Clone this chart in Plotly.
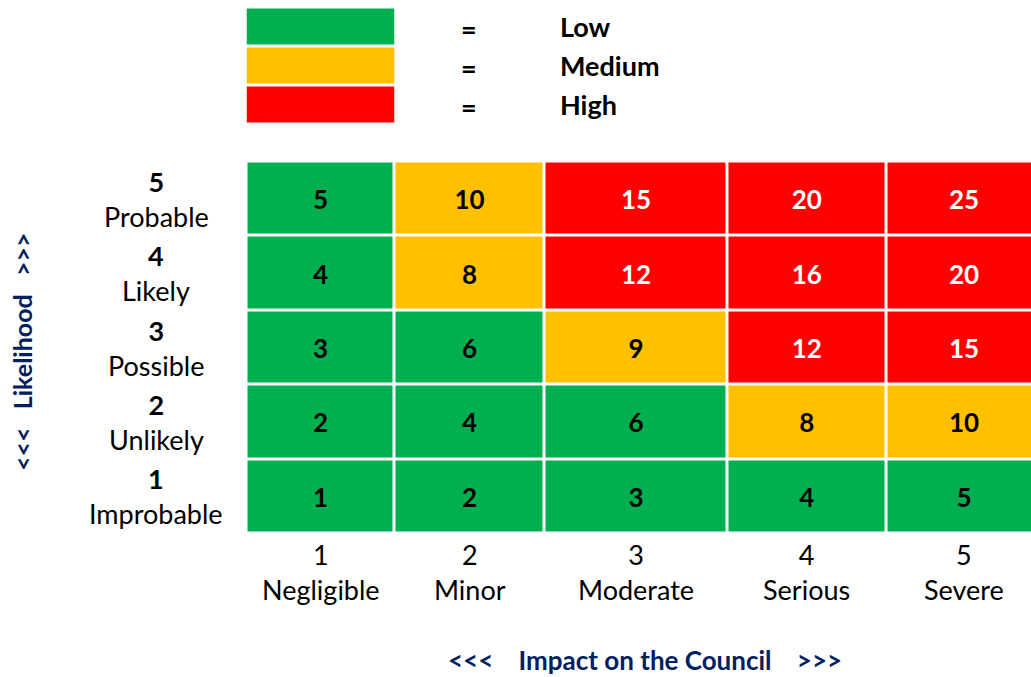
import plotly.graph_objects as go

# ---------------- data ----------------
IMPACT_LEVELS = ["1", "2", "3", "4", "5"]
IMPACT_NAMES = ["Negligible", "Minor", "Moderate", "Serious", "Severe"]
LIKELIHOOD_LEVELS = ["1", "2", "3", "4", "5"]
LIKELIHOOD_NAMES = ["Improbable", "Unlikely", "Possible", "Likely", "Probable"]

# rows: likelihood 1 (bottom) .. 5 (top); columns: impact 1 .. 5
SCORES = [
    [1, 2, 3, 4, 5],
    [2, 4, 6, 8, 10],
    [3, 6, 9, 12, 15],
    [4, 8, 12, 16, 20],
    [5, 10, 15, 20, 25],
]
RATINGS = [
    ["Low", "Low", "Low", "Low", "Low"],
    ["Low", "Low", "Low", "Medium", "Medium"],
    ["Low", "Low", "Medium", "High", "High"],
    ["Low", "Medium", "High", "High", "High"],
    ["Low", "Medium", "High", "High", "High"],
]
RATING_NAMES = ["Low", "Medium", "High"]

# ---------------- style ----------------
W, H = 1031, 677
RATING_COLORS = ["#00B050", "#FFC000", "#FF0000"]
TEXT_COLORS = {"Low": "black", "Medium": "black", "High": "white"}
NAVY = "#002060"
FONT = "Lato"
COL_WIDTHS = [148, 150, 183, 158.5, 156]   # uneven spreadsheet-like columns (px)
GRID_LEFT, GRID_TOP, GRID_BOTTOM = 246.5, 161.5, 533.5
LEG_LEFT, LEG_RIGHT, LEG_TOP, LEG_BOTTOM = 246.5, 394.5, 7.5, 124.5
ROW_PX = (GRID_BOTTOM - GRID_TOP) / len(LIKELIHOOD_LEVELS)
TEXT_DY_PX = 4  # nudge digits down so they look vertically centred

x_edges = [0]
for w in COL_WIDTHS:
    x_edges.append(x_edges[-1] + w)
x_centers = [(x_edges[i] + x_edges[i + 1]) / 2 for i in range(len(COL_WIDTHS))]
y_edges = list(range(len(LIKELIHOOD_LEVELS) + 1))
y_centers = [i + 0.5 for i in range(len(LIKELIHOOD_LEVELS))]

z = [[RATING_NAMES.index(r) for r in row] for row in RATINGS]
colorscale = [[0, RATING_COLORS[0]], [0.5, RATING_COLORS[1]], [1, RATING_COLORS[2]]]

fig = go.Figure()
fig.add_trace(go.Heatmap(
    z=z, x=x_edges, y=y_edges, zmin=0, zmax=2, colorscale=colorscale,
    showscale=False, xgap=3, ygap=3, hoverinfo="skip",
))

# cell numbers, grouped by text colour
for tc in ["black", "white"]:
    xs, ys, ts = [], [], []
    for i in range(len(SCORES)):
        for j in range(len(SCORES[i])):
            if TEXT_COLORS[RATINGS[i][j]] == tc:
                xs.append(x_centers[j])
                ys.append(y_centers[i] - TEXT_DY_PX / ROW_PX)
                ts.append(str(SCORES[i][j]))
    fig.add_trace(go.Scatter(
        x=xs, y=ys, text=ts, mode="text", hoverinfo="skip", showlegend=False,
        textfont=dict(family=FONT, size=26, color=tc, weight="bold"),
    ))

# legend as a small heatmap
fig.add_trace(go.Heatmap(
    z=[[i] for i in range(len(RATING_NAMES))], x=[0], y=RATING_NAMES,
    zmin=0, zmax=2, colorscale=colorscale, showscale=False, ygap=3,
    xaxis="x2", yaxis="y2", hoverinfo="skip",
))

ann = []
for name in RATING_NAMES:
    ann.append(dict(x=469 / W, y=name, xref="paper", yref="y2", text="=", showarrow=False,
                    font=dict(family=FONT, size=27, color="black", weight="bold"),
                    xanchor="center", yanchor="middle", yshift=-1))
    ann.append(dict(x=558 / W, y=name, xref="paper", yref="y2", text=name, showarrow=False,
                    font=dict(family=FONT, size=27, color="black", weight="bold"),
                    xanchor="left", yanchor="middle", yshift=1))

for i, (lvl, nm) in enumerate(zip(LIKELIHOOD_LEVELS, LIKELIHOOD_NAMES)):
    ann.append(dict(x=156 / W, y=y_centers[i], xref="paper", yref="y",
                    text=f"<b>{lvl}</b><br>{nm}", showarrow=False, align="center",
                    xanchor="center", yanchor="middle",
                    font=dict(family=FONT, size=27, color="black")))

for j, (lvl, nm) in enumerate(zip(IMPACT_LEVELS, IMPACT_NAMES)):
    ann.append(dict(x=x_centers[j], y=1 - 571.5 / H, xref="x", yref="paper",
                    text=f"{lvl}<br>{nm}", showarrow=False, align="center",
                    xanchor="center", yanchor="middle",
                    font=dict(family=FONT, size=27, color="black")))

ann.append(dict(x=22 / W, y=1 - 352 / H, xref="paper", yref="paper", textangle=-90,
                xanchor="center", yanchor="middle",
                text="&lt;&lt;&lt;\u00a0\u00a0\u00a0Likelihood\u00a0\u00a0\u00a0&gt;&gt;&gt;",
                showarrow=False, font=dict(family=FONT, size=25, color=NAVY, weight="bold")))
ann.append(dict(x=645 / W, y=1 - 660 / H, xref="paper", yref="paper",
                xanchor="center", yanchor="middle",
                text="&lt;&lt;&lt;\u00a0\u00a0\u00a0\u00a0Impact on the Council\u00a0\u00a0\u00a0\u00a0&gt;&gt;&gt;",
                showarrow=False, font=dict(family=FONT, size=26, color=NAVY, weight="bold")))

hidden = dict(visible=False, showgrid=False, zeroline=False, fixedrange=True)
fig.update_layout(
    width=W, height=H, margin=dict(l=0, r=0, t=0, b=0, pad=0),
    paper_bgcolor="white", plot_bgcolor="white", showlegend=False,
    xaxis=dict(domain=[GRID_LEFT / W, 1], range=[0, W - GRID_LEFT], **hidden),
    yaxis=dict(domain=[1 - GRID_BOTTOM / H, 1 - GRID_TOP / H], range=[0, len(LIKELIHOOD_LEVELS)], **hidden),
    xaxis2=dict(domain=[LEG_LEFT / W, LEG_RIGHT / W], anchor="y2", range=[-0.5, 0.5], **hidden),
    yaxis2=dict(domain=[1 - LEG_BOTTOM / H, 1 - LEG_TOP / H], anchor="x2", autorange="reversed",
                type="category", **hidden),
    annotations=ann,
)
fig.write_html("out.html")
